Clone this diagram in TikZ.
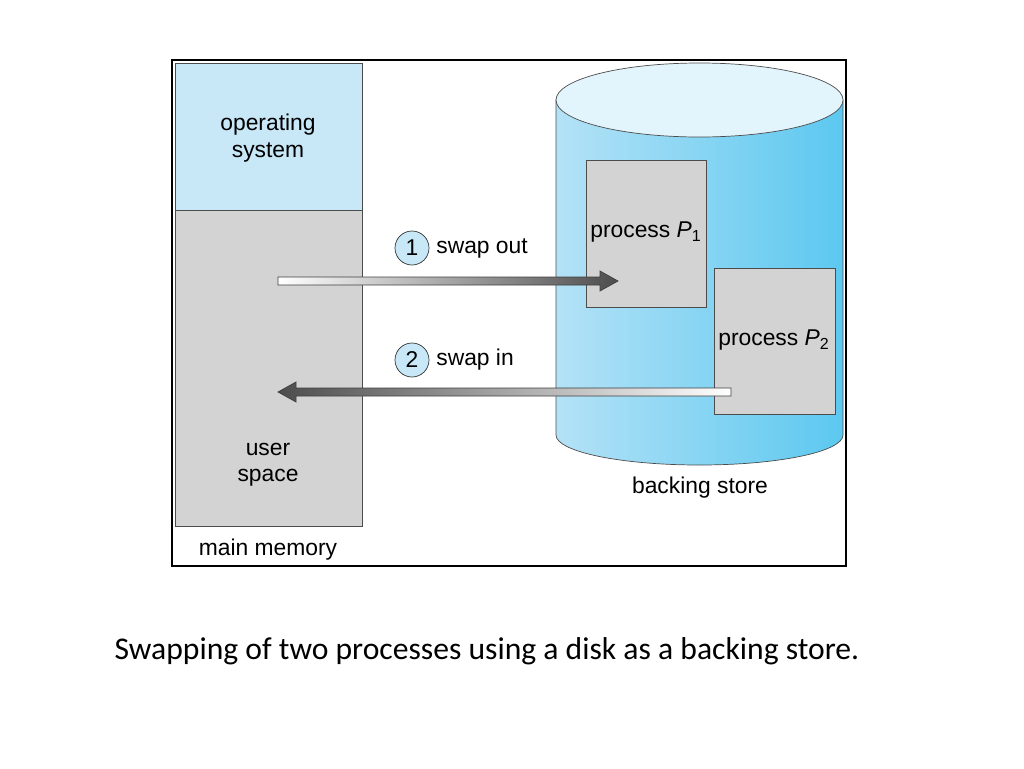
\documentclass[tikz,border=0pt]{standalone}
\usepackage{fontspec}
\setmainfont{Liberation Sans}
\newfontfamily\capfont{Carlito}
\usetikzlibrary{calc}
\definecolor{osblue}{RGB}{200,232,248}
\definecolor{memgray}{RGB}{211,211,211}
\definecolor{diskleft}{RGB}{180,226,246}
\definecolor{diskmid}{RGB}{228,245,252}
\definecolor{diskright}{RGB}{92,200,240}
\definecolor{disktop}{RGB}{226,244,252}

\tikzset{
  box/.style={draw=black!70,fill=memgray},
  lbl/.style={font=\fontsize{13}{15}\selectfont,align=center,inner sep=0pt},
  stepno/.style={circle,draw=black!80,fill=osblue,minimum size=34*0.02cm,inner sep=0pt,font=\fontsize{13}{15}\selectfont}
}

\begin{document}
\begin{tikzpicture}[x=0.02cm,y=-0.02cm]
  \useasboundingbox (0,0) rectangle (1024,768);
  % frame
  \draw[line width=1.6pt] (172,60) rectangle (846,566);
  % main memory
  \draw[box,fill=osblue] (175,63) rectangle (362,210);
  \draw[box] (175,210) rectangle (362,526);
  \node[lbl] (os) at (268,138) {operating\\system};
  \node[lbl] (us) at (268,465) {user\\space};
  \node[lbl] (mm) at (268,550) {main memory};
  % backing store
  \shade[left color=diskleft,middle color=diskmid,right color=diskright,draw=black!70]
    (556,100) -- (556,435) arc[start angle=180,end angle=0,x radius=143.5,y radius=30]
    -- (843,100) -- cycle;
  \draw[fill=disktop,draw=black!70] (699.5,100) ellipse[x radius=143.5,y radius=37];
  \draw[box] (586,160) rectangle (706,307);
  \draw[box] (714,268) rectangle (835,414);
  \node[lbl] (p1) at (646,232) {process \textit{P}\textsubscript{1}};
  \node[lbl] (p2) at (774,340) {process \textit{P}\textsubscript{2}};
  \node[lbl] (bs) at (700,488) {backing store};
  % swap arrows
  \coordinate (outA) at (278,281);
  \coordinate (outB) at (618,281);
  \coordinate (inA) at (731,392);
  \coordinate (inB) at (278,392);
  \shade[left color=white,right color=black!70,draw=black!75]
    ($(outA)+(0,-4)$) -- ($(outB)+(-18,-4)$) -- ($(outB)+(-18,-10)$) -- (outB)
    -- ($(outB)+(-18,10)$) -- ($(outB)+(-18,4)$) -- ($(outA)+(0,4)$) -- cycle;
  \shade[right color=white,left color=black!70,draw=black!75]
    ($(inA)+(0,-4)$) -- ($(inB)+(18,-4)$) -- ($(inB)+(18,-10)$) -- (inB)
    -- ($(inB)+(18,10)$) -- ($(inB)+(18,4)$) -- ($(inA)+(0,4)$) -- cycle;
  \node[stepno] (s1) at (412,248) {1};
  \node[lbl,anchor=west] (so) at (436,248) {swap out};
  \node[stepno] (s2) at (412,360) {2};
  \node[lbl,anchor=west] (si) at (436,360) {swap in};
  % caption
  \node[font=\capfont\fontsize{18}{20}\selectfont,inner sep=0pt] (cap) at (487,651)
    {Swapping of two processes using a disk as a backing store.};
\end{tikzpicture}
\end{document}
